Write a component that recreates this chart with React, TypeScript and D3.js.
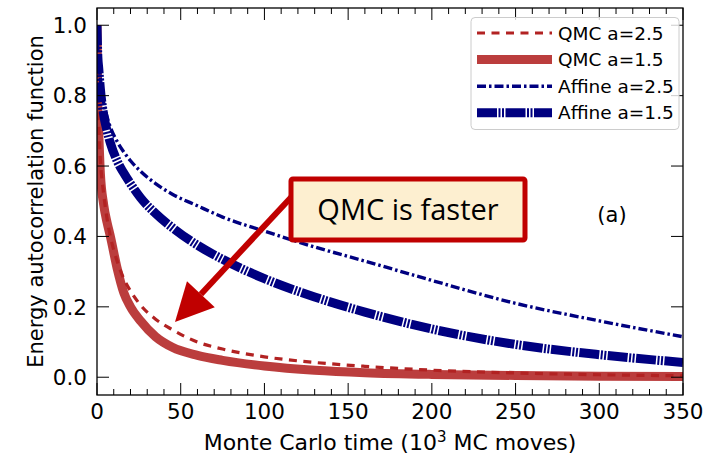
import React from "react";
import * as d3 from "d3";

// Monte Carlo time (10^3 MC moves)
const times = [0, 0.5, 1, 2, 4, 6, 8, 12, 16, 20, 26, 35, 45, 60, 75, 100, 130, 160, 200, 250, 300, 350];

// Energy autocorrelation function per sampler
const qmc25 = [1.0, 0.78, 0.72, 0.62, 0.52, 0.45, 0.40, 0.33, 0.28, 0.245, 0.205, 0.165, 0.135, 0.10, 0.08, 0.058, 0.042, 0.031, 0.02, 0.012, 0.007, 0.004];
const qmc15 = [1.0, 0.76, 0.70, 0.58, 0.49, 0.44, 0.40, 0.31, 0.24, 0.20, 0.16, 0.115, 0.085, 0.062, 0.048, 0.032, 0.02, 0.013, 0.008, 0.005, 0.003, 0.002];
const affine25 = [1.0, 0.93, 0.9, 0.85, 0.78, 0.74, 0.71, 0.67, 0.64, 0.615, 0.585, 0.55, 0.52, 0.487, 0.455, 0.415, 0.37, 0.33, 0.275, 0.21, 0.16, 0.115];
const affine15 = [1.0, 0.91, 0.88, 0.82, 0.745, 0.70, 0.665, 0.615, 0.58, 0.55, 0.51, 0.465, 0.425, 0.375, 0.335, 0.28, 0.228, 0.185, 0.137, 0.093, 0.064, 0.042];

const xTicks = [0, 50, 100, 150, 200, 250, 300, 350];
const yTicks = [0.0, 0.2, 0.4, 0.6, 0.8, 1.0];

const seriesNames = ["QMC a=2.5", "QMC a=1.5", "Affine a=2.5", "Affine a=1.5"];

const FONT = "DejaVu Sans, sans-serif";

const styles = [
  { color: "#b22222", width: 3.2, dash: "8 6.5", opacity: 1 },
  { color: "#b22222", width: 9, dash: "", opacity: 0.88 },
  { color: "#000080", width: 3.4, dash: "9 3 2.5 3", opacity: 1 },
  { color: "#000080", width: 9, dash: "20 1.5 2 1.5 2 1.5", opacity: 1 },
];

export default function App() {
  const W = 706;
  const H = 456;
  const left = 97, right = 683, top = 8, bottom = 395;

  const x = d3.scaleLinear().domain([0, 350]).range([left, right]);
  const y = d3.scaleLinear().domain([-0.0505, 1.049]).range([bottom, top]);

  const series = [qmc25, qmc15, affine25, affine15];
  const line = d3
    .line<number>()
    .x((_, i) => x(times[i]))
    .y((d) => y(d))
    .curve(d3.curveMonotoneX);

  const minorX = d3.range(0, 351, 10).filter((v) => v % 50 !== 0);

  // annotation geometry
  const box = { x0: 291, y0: 179, x1: 525, y1: 240 };
  const tip = [175, 322];
  const tail = [296, 192];
  const ang = Math.atan2(tail[1] - tip[1], tail[0] - tip[0]);
  const headLen = 38;
  const headHalf = 19;
  const ux = Math.cos(ang), uy = Math.sin(ang);
  const bx = tip[0] + ux * headLen, by = tip[1] + uy * headLen;
  const head = [
    [tip[0], tip[1]],
    [bx - uy * headHalf, by + ux * headHalf],
    [bx + uy * headHalf, by - ux * headHalf],
  ];

  const legX = 471, legY = 17.5, legW = 208, legH = 112;
  const rowY = (i: number) => 33 + i * 26.6;

  return (
    <svg width={W} height={H} style={{ position: "absolute", left: 0, top: 0, background: "#fff" }} fontFamily={FONT}>
      <defs>
        <clipPath id="plotArea">
          <rect x={left} y={top} width={right - left} height={bottom - top} />
        </clipPath>
      </defs>

      {/* data curves, drawn back to front */}
      <g clipPath="url(#plotArea)" fill="none">
        {[1, 0, 3, 2].map((k) => (
          <path
            key={k}
            d={line(series[k]) || ""}
            stroke={styles[k].color}
            strokeWidth={styles[k].width}
            strokeDasharray={styles[k].dash || undefined}
            strokeOpacity={styles[k].opacity}
          />
        ))}
      </g>

      {/* inward ticks on all four sides */}
      <g stroke="#000" strokeWidth={1}>
        {xTicks.map((t) => (
          <g key={"xt" + t}>
            <line x1={x(t)} x2={x(t)} y1={bottom} y2={bottom - 12} />
            <line x1={x(t)} x2={x(t)} y1={top} y2={top + 12} />
          </g>
        ))}
        {minorX.map((t) => (
          <g key={"xm" + t}>
            <line x1={x(t)} x2={x(t)} y1={bottom} y2={bottom - 6} />
            <line x1={x(t)} x2={x(t)} y1={top} y2={top + 6} />
          </g>
        ))}
        {yTicks.map((t) => (
          <g key={"yt" + t}>
            <line x1={left} x2={left + 12} y1={y(t)} y2={y(t)} />
            <line x1={right} x2={right - 12} y1={y(t)} y2={y(t)} />
          </g>
        ))}
      </g>

      <rect x={left} y={top} width={right - left} height={bottom - top} fill="none" stroke="#000" strokeWidth={1.3} />

      {/* tick labels */}
      <g fontSize={21.5} fill="#000">
        {xTicks.map((t) => (
          <text key={"xl" + t} x={x(t)} y={419} textAnchor="middle">
            {t}
          </text>
        ))}
        {yTicks.map((t) => (
          <text key={"yl" + t} x={87} y={y(t)} dy="0.36em" textAnchor="end">
            {t.toFixed(1)}
          </text>
        ))}
      </g>

      {/* axis titles */}
      <text x={(left + right) / 2} y={450} textAnchor="middle" fontSize={22}>
        Monte Carlo time (10
        <tspan dy={-8} fontSize={15}>3</tspan>
        <tspan dy={8}> MC moves)</tspan>
      </text>
      <text
        transform={`translate(43, ${(top + bottom) / 2}) rotate(-90)`}
        textAnchor="middle"
        fontSize={21}
      >
        Energy autocorrelation function
      </text>

      {/* panel tag */}
      <text x={612} y={222} textAnchor="middle" fontSize={21}>
        (a)
      </text>

      {/* legend */}
      <g>
        <rect x={legX} y={legY} width={legW} height={legH} rx={4} fill="#fff" fillOpacity={0.8} stroke="#cccccc" strokeWidth={1} />
        {seriesNames.map((name, i) => (
          <g key={name}>
            <line
              x1={477}
              x2={552}
              y1={rowY(i)}
              y2={rowY(i)}
              stroke={styles[i].color}
              strokeWidth={styles[i].width}
              strokeDasharray={styles[i].dash || undefined}
              strokeOpacity={styles[i].opacity}
            />
            <text x={558} y={rowY(i)} dy="0.36em" fontSize={18.5}>
              {name}
            </text>
          </g>
        ))}
      </g>

      {/* callout */}
      <line x1={tail[0]} y1={tail[1]} x2={bx} y2={by} stroke="#c00000" strokeWidth={6} />
      <polygon points={head.map((p) => p.join(",")).join(" ")} fill="#c00000" />
      <rect
        x={box.x0}
        y={box.y0}
        width={box.x1 - box.x0}
        height={box.y1 - box.y0}
        fill="#fdefd0"
        stroke="#c00000"
        strokeWidth={5}
        rx={2}
      />
      <text
        x={(box.x0 + box.x1) / 2}
        y={(box.y0 + box.y1) / 2}
        dy="0.35em"
        textAnchor="middle"
        fontSize={29}
        fontFamily="Open Sans, sans-serif"
      >
        QMC is faster
      </text>
    </svg>
  );
}
